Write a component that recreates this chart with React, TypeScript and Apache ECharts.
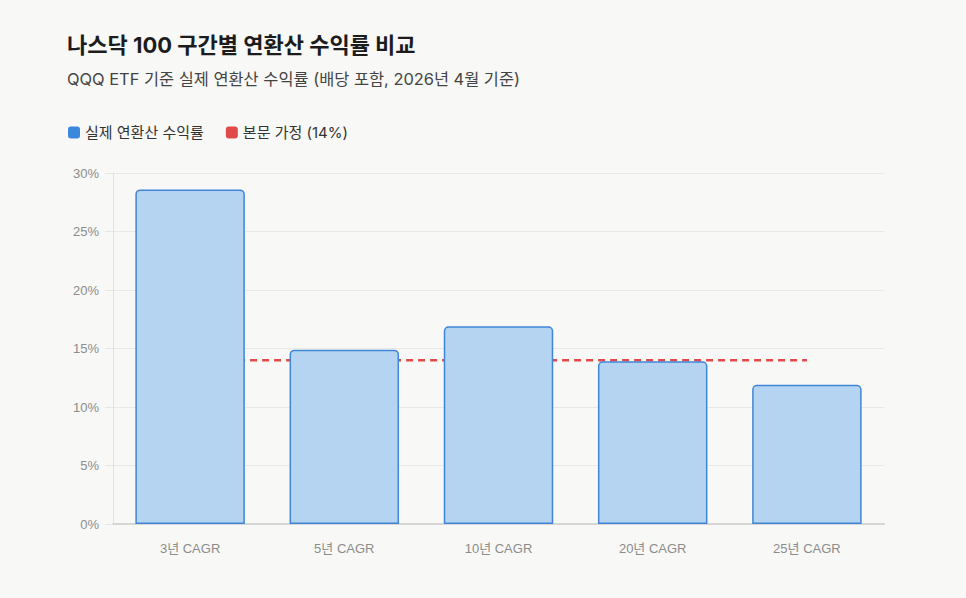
import React, { useEffect, useRef } from "react";
import * as echarts from "echarts";

const categories = ["3년 CAGR", "5년 CAGR", "10년 CAGR", "20년 CAGR", "25년 CAGR"];
const actualReturns = [28.6, 14.9, 16.9, 13.9, 11.9];
const assumedReturns = [14, 14, 14, 14, 14];
const seriesNames = ["실제 연환산 수익률", "본문 가정 (14%)"];
const titleText = "나스닥 100 구간별 연환산 수익률 비교";
const subtitleText = "QQQ ETF 기준 실제 연환산 수익률 (배당 포함, 2026년 4월 기준)";

const FONT = 'Inter, "Noto Sans CJK KR", sans-serif';
const AXIS_FONT = '"Liberation Sans", "Noto Sans CJK KR", sans-serif';

export default function App() {
  const ref = useRef<HTMLDivElement>(null);
  useEffect(() => {
    document.body.style.margin = "0";
    const chart = echarts.init(ref.current!, undefined, { renderer: "svg" });
    chart.setOption({
      animation: false,
      backgroundColor: "#f8f8f6",
      textStyle: { fontFamily: FONT },
      title: {
        text: titleText,
        subtext: subtitleText,
        left: 62,
        top: 29,
        itemGap: 15,
        textStyle: { fontFamily: FONT, fontSize: 22, fontWeight: "bold", color: "#1c1c1c" },
        subtextStyle: { fontFamily: FONT, fontSize: 16.4, color: "#444444" },
      },
      legend: {
        left: 63,
        top: 120,
        itemWidth: 12,
        itemHeight: 12,
        itemGap: 22,
        icon: "roundRect",
        textStyle: { fontFamily: FONT, fontSize: 15, color: "#333333" },
        data: [
          { name: seriesNames[0], itemStyle: { color: "#3a87db", borderWidth: 0 } },
          { name: seriesNames[1], itemStyle: { color: "#e04a4a", borderWidth: 0 } },
        ],
      },
      grid: { left: 113, right: 82, top: 173, bottom: 74, containLabel: false },
      xAxis: {
        type: "category",
        data: categories,
        axisLine: { show: true, lineStyle: { color: "#d6d6d6", width: 2 } },
        axisTick: { show: false },
        axisLabel: { color: "#8c8c8c", fontSize: 13, margin: 18, fontFamily: AXIS_FONT },
        splitLine: { show: false },
      },
      yAxis: {
        type: "value",
        min: 0,
        max: 30,
        interval: 5,
        axisLine: { show: true, lineStyle: { color: "#e2e2e2", width: 1 } },
        axisTick: { show: true, length: 8, lineStyle: { color: "#e6e6e6" } },
        axisLabel: { color: "#8c8c8c", fontSize: 13, margin: 14, formatter: "{value}%", fontFamily: AXIS_FONT },
        splitLine: { show: true, lineStyle: { color: "#e8e8e8", width: 1 } },
      },
      series: [
        {
          name: seriesNames[0],
          type: "bar",
          data: actualReturns,
          barWidth: "71%",
          z: 3,
          itemStyle: {
            color: "#b5d4f2",
            borderColor: "#3f86d6",
            borderWidth: 1.5,
            borderRadius: [4, 4, 0, 0],
          },
        },
        {
          name: seriesNames[1],
          type: "line",
          data: assumedReturns,
          z: 2,
          symbol: "none",
          itemStyle: { color: "#e04a4a" },
          lineStyle: { color: "#e04a4a", width: 2.5, type: [7, 5] },
        },
      ],
    });
    return () => chart.dispose();
  }, []);
  return <div ref={ref} style={{ width: 966, height: 598 }} />;
}
